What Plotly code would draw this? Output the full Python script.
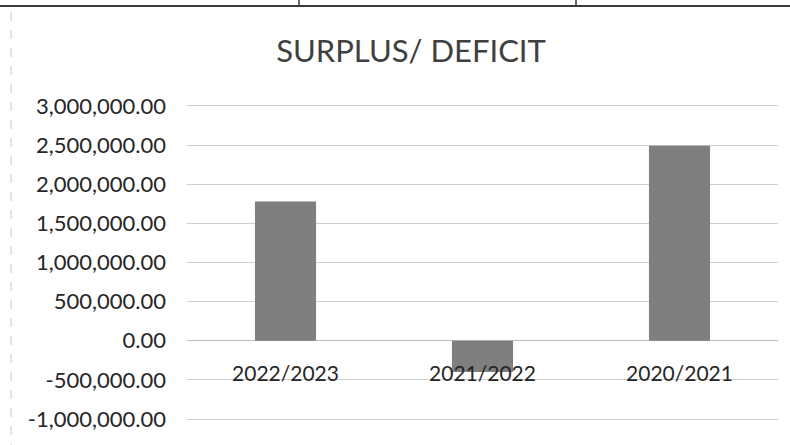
import plotly.graph_objects as go

categories = ["2022/2023", "2021/2022", "2020/2021"]
surplus_deficit = [1780000, -400000, 2490000]
y_ticks = [-1000000, -500000, 0, 500000, 1000000, 1500000, 2000000, 2500000, 3000000]
y_tick_labels = [f"{v:,.2f}" for v in y_ticks]

y_min, y_max = -1050000, 3050000

fig = go.Figure(
    go.Bar(
        x=categories,
        y=surplus_deficit,
        marker=dict(color="#7f7f7f", line=dict(width=0)),
        hoverinfo="x+y",
    )
)

W, H = 790, 445
L, R = 187, 12
# plot area so that 3,000,000 sits at px 106 and -1,000,000 at px 419
px_per_unit = (419 - 106) / (3000000 - (-1000000))
T = round(106 - (y_max - 3000000) * px_per_unit)
B = round(H - (419 + (-1000000 - y_min) * px_per_unit))
pw, ph = W - L - R, H - T - B

def px_x(px):
    return (px - L) / pw

def px_y(py):
    return 1 - (py - T) / ph

fig.update_layout(
    width=W,
    height=H,
    margin=dict(l=L, r=R, t=T, b=B),
    paper_bgcolor="white",
    plot_bgcolor="white",
    bargap=0.69,
    showlegend=False,
    font=dict(family="Lato, Calibri, sans-serif", color="#262626"),
    title=dict(
        text="SURPLUS/ DEFICIT",
        font=dict(family="Lato, sans-serif", size=31, color="#404040"),
        x=411 / W,
        xref="container",
        xanchor="center",
        y=1 - 51 / H,
        yref="container",
        yanchor="middle",
    ),
    xaxis=dict(
        anchor="free",
        position=(0 - y_min) / (y_max - y_min),
        showgrid=False,
        showline=False,
        ticks="",
        tickfont=dict(size=21, color="#262626"),
        ticklabelstandoff=18,
    ),
    yaxis=dict(
        range=[y_min, y_max],
        tickvals=y_ticks,
        ticktext=y_tick_labels,
        showgrid=True,
        gridcolor="#cfcfcf",
        gridwidth=1,
        zeroline=True,
        zerolinecolor="#bdbdbd",
        zerolinewidth=1,
        showline=False,
        ticks="",
        tickfont=dict(size=22, color="#262626"),
        ticklabelstandoff=20,
    ),
    shapes=[
        dict(type="line", xref="paper", yref="paper",
             x0=px_x(0), x1=px_x(790), y0=px_y(6), y1=px_y(6),
             line=dict(color="#3a3a3a", width=2)),
        dict(type="line", xref="paper", yref="paper",
             x0=px_x(299), x1=px_x(299), y0=px_y(0), y1=px_y(6),
             line=dict(color="#3a3a3a", width=1.5)),
        dict(type="line", xref="paper", yref="paper",
             x0=px_x(576), x1=px_x(576), y0=px_y(0), y1=px_y(6),
             line=dict(color="#3a3a3a", width=1.5)),
        dict(type="line", xref="paper", yref="paper",
             x0=px_x(11), x1=px_x(11), y0=px_y(12), y1=px_y(445),
             line=dict(color="#c8c8c8", width=1, dash="dash")),
    ],
)

fig.write_html(
    "out.html",
    config={"displayModeBar": False},
    post_script="document.body.style.margin='0px';document.body.style.padding='0px';",
)
